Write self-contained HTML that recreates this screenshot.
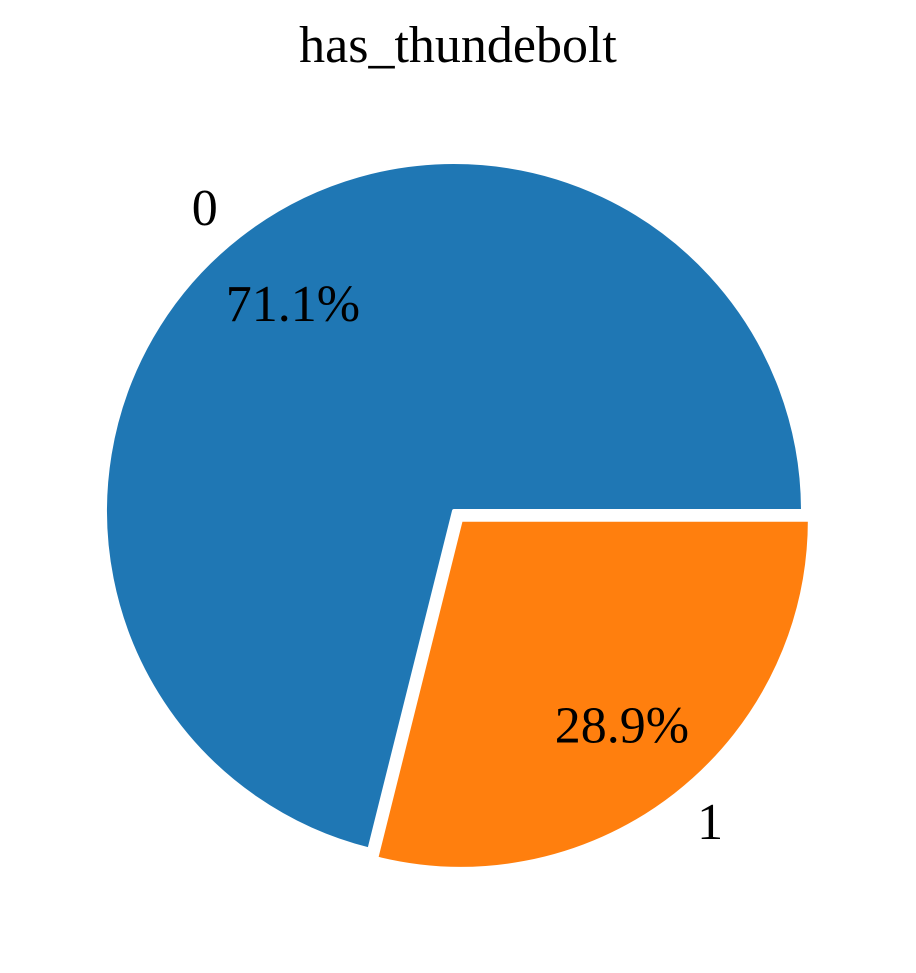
<!DOCTYPE html>
<html><head><meta charset="utf-8"><style>
html,body{margin:0;padding:0;background:#fff;}
svg{display:block;font-family:"Liberation Serif","DejaVu Serif",serif;}
</style></head><body>
<svg id="chart" width="916" height="973" viewBox="0 0 916 973" xmlns="http://www.w3.org/2000/svg">
<text x="458" y="62" font-size="52" text-anchor="middle">has_thundebolt</text>
<g id="slices"></g>
</svg>
<script>
const categories = ["0", "1"];
const values = [71.1, 28.9];
const explode = [0, 0.032];
const colors = ["#1f77b4", "#ff7f0e"];

const cx = 454, cy = 511, r = 349;
const total = values.reduce((a, b) => a + b, 0);
const g = document.getElementById('slices');
const NS = "http://www.w3.org/2000/svg";
let start = 0;
values.forEach((v, i) => {
  const sweep = v / total * 360;
  const mid = (start + sweep / 2) * Math.PI / 180;
  const ox = cx + explode[i] * r * Math.cos(mid);
  const oy = cy - explode[i] * r * Math.sin(mid);
  const a0 = start * Math.PI / 180, a1 = (start + sweep) * Math.PI / 180;
  const x0 = ox + r * Math.cos(a0), y0 = oy - r * Math.sin(a0);
  const x1 = ox + r * Math.cos(a1), y1 = oy - r * Math.sin(a1);
  const large = sweep > 180 ? 1 : 0;
  const p = document.createElementNS(NS, 'path');
  p.setAttribute('d', `M${ox},${oy} L${x0},${y0} A${r},${r} 0 ${large} 0 ${x1},${y1} Z`);
  p.setAttribute('fill', colors[i]);
  p.setAttribute('stroke', '#fff');
  p.setAttribute('stroke-width', '4');
  p.setAttribute('stroke-linejoin', 'round');
  
  
  g.appendChild(p);

  const lx = ox + 1.1 * r * Math.cos(mid), ly = oy - 1.1 * r * Math.sin(mid);
  const lab = document.createElementNS(NS, 'text');
  lab.setAttribute('x', lx);
  lab.setAttribute('y', ly);
  lab.setAttribute('font-size', '52');
  lab.setAttribute('dominant-baseline', 'central');
  lab.setAttribute('text-anchor', Math.cos(mid) >= 0 ? 'start' : 'end');
  lab.textContent = categories[i];
  
  
  g.appendChild(lab);

  const px = ox + 0.75 * r * Math.cos(mid), py = oy - 0.75 * r * Math.sin(mid);
  const pct = document.createElementNS(NS, 'text');
  pct.setAttribute('x', px);
  pct.setAttribute('y', py);
  pct.setAttribute('font-size', '52');
  pct.setAttribute('dominant-baseline', 'central');
  pct.setAttribute('text-anchor', 'middle');
  pct.textContent = (v / total * 100).toFixed(1) + '%';
  
  
  g.appendChild(pct);
  start += sweep;
});
</script>
</body></html>
